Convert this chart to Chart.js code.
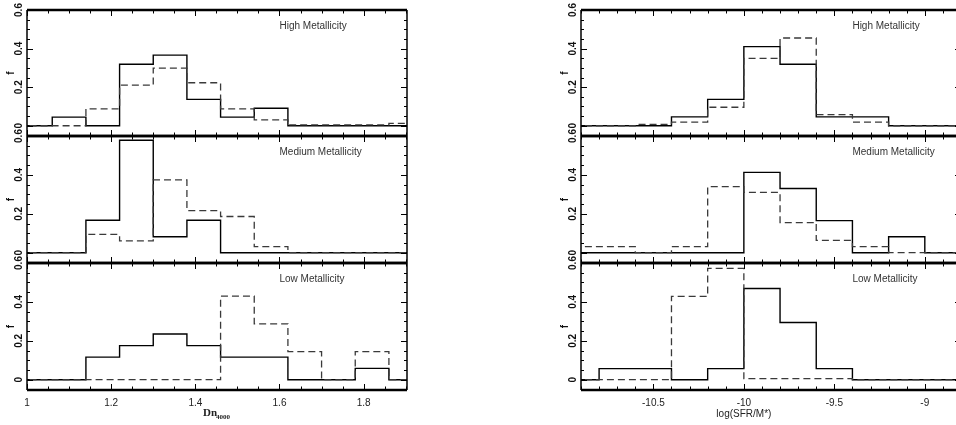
<!DOCTYPE html>
<html>
<head>
<meta charset="utf-8">
<script src="https://cdn.jsdelivr.net/npm/chart.js@4/dist/chart.umd.min.js"></script>
<style>
  html, body { margin: 0; padding: 0; background: #fff; width: 956px; height: 425px; overflow: hidden; position: relative; }
  canvas { position: absolute; top: 0; }
</style>
</head>
<body>
<div id="wrap"></div>
<script>
// bin edges (left edge of each bin, plus the final right edge)
const dnEdges = [0.98, 1.06, 1.14, 1.22, 1.30, 1.38, 1.46, 1.54, 1.62, 1.70, 1.78, 1.86, 1.94];
const sfrEdges = [-11.0, -10.8, -10.6, -10.4, -10.2, -10.0, -9.8, -9.6, -9.4, -9.2, -9.0, -8.8];

// Dn4000 histograms
const dnHighSolid  = [0, 0.045, 0, 0.319, 0.366, 0.137, 0.045, 0.091, 0, 0, 0, 0];
const dnHighDashed = [0, 0, 0.088, 0.211, 0.299, 0.223, 0.088, 0.031, 0.005, 0.005, 0.005, 0.012];
const dnMedSolid   = [0, 0, 0.167, 0.578, 0.082, 0.167, 0, 0, 0, 0, 0, 0];
const dnMedDashed  = [0, 0, 0.094, 0.061, 0.374, 0.216, 0.186, 0.031, 0, 0, 0, 0];
const dnLowSolid   = [0, 0, 0.116, 0.175, 0.235, 0.175, 0.116, 0.116, 0, 0, 0.058, 0];
const dnLowDashed  = [0, 0, 0, 0, 0, 0, 0.43, 0.287, 0.144, 0, 0.144, 0];

// log(SFR/M*) histograms
const sfrHighSolid  = [0, 0, 0, 0.046, 0.137, 0.41, 0.319, 0.046, 0.046, 0, 0];
const sfrHighDashed = [0, 0, 0.007, 0.019, 0.096, 0.349, 0.455, 0.058, 0.019, 0, 0];
const sfrMedSolid   = [0, 0, 0, 0, 0, 0.413, 0.33, 0.165, 0, 0.082, 0];
const sfrMedDashed  = [0.031, 0.031, 0, 0.031, 0.34, 0.31, 0.155, 0.063, 0.031, 0, 0];
const sfrLowSolid   = [0, 0.057, 0.057, 0, 0.057, 0.469, 0.294, 0.057, 0, 0, 0];
const sfrLowDashed  = [0, 0, 0, 0.428, 0.572, 0.005, 0.005, 0.005, 0, 0, 0];

// tick labels
const dnTicks = [1, 1.2, 1.4, 1.6, 1.8];
const sfrTicks = [-10.5, -10, -9.5, -9];
const yTicks = [0, 0.2, 0.4, 0.6];

// layout of the two columns
const columns = {
  dn:  { left: 0,   width: 460, plotLeft: 27, plotRight: 407, min: 1, max: 1.903, ticks: dnTicks,
         minor: 0.05, labelAt: 1.6, title: 'dn' },
  sfr: { left: 530, width: 440, plotLeft: 51, plotRight: 431, min: -10.9, max: -8.8, ticks: sfrTicks,
         minor: 0.1, labelAt: -9.4, title: 'sfr' }
};

const panels = [
  { col: 'dn',  label: 'High Metallicity',   solid: dnHighSolid,  dashed: dnHighDashed,  top: 10,  bottom: 136, last: false },
  { col: 'dn',  label: 'Medium Metallicity', solid: dnMedSolid,   dashed: dnMedDashed,   top: 136, bottom: 263, last: false },
  { col: 'dn',  label: 'Low Metallicity',    solid: dnLowSolid,   dashed: dnLowDashed,   top: 263, bottom: 390, last: true },
  { col: 'sfr', label: 'High Metallicity',   solid: sfrHighSolid, dashed: sfrHighDashed, top: 10,  bottom: 136, last: false },
  { col: 'sfr', label: 'Medium Metallicity', solid: sfrMedSolid,  dashed: sfrMedDashed,  top: 136, bottom: 263, last: false },
  { col: 'sfr', label: 'Low Metallicity',    solid: sfrLowSolid,  dashed: sfrLowDashed,  top: 263, bottom: 390, last: true }
];

const H = 425;
const Y_MIN = -0.053, Y_MAX = 0.6;

function steps(edges, vals) {
  return edges.map((e, i) => ({ x: e, y: vals[Math.min(i, vals.length - 1)] }));
}

function seg(ctx, x1, y1, x2, y2) {
  ctx.beginPath();
  ctx.moveTo(x1, y1);
  ctx.lineTo(x2, y2);
  ctx.stroke();
}

// frame, inside ticks, labels
const framePlugin = {
  id: 'frame',
  afterDatasetsDraw(chart, args, opts) {
    const { ctx, chartArea: a, scales: { x, y } } = chart;
    const col = opts.col;
    ctx.save();
    ctx.strokeStyle = '#000';
    ctx.lineWidth = 1.5;
    seg(ctx, a.left, a.top, a.left, a.bottom);
    seg(ctx, a.right, a.top, a.right, a.bottom);
    ctx.lineWidth = 2.5;
    seg(ctx, a.left, a.top, a.right, a.top);
    seg(ctx, a.left, a.bottom, a.right, a.bottom);

    // x ticks, top and bottom
    ctx.lineWidth = 1;
    const nx = Math.round((col.max - col.min) / col.minor);
    for (let i = 0; i <= nx; i++) {
      const v = col.min + i * col.minor;
      const px = Math.round(x.getPixelForValue(v)) + 0.5;
      const major = col.ticks.some(t => Math.abs(t - v) < 1e-6);
      const len = major ? 6 : 3.5;
      seg(ctx, px, a.top, px, a.top + len);
      seg(ctx, px, a.bottom, px, a.bottom - len);
    }
    // y ticks, left and right
    for (let i = -1; i <= 12; i++) {
      const v = i * 0.05;
      const py = Math.round(y.getPixelForValue(v)) + 0.5;
      const major = i % 4 === 0;
      const len = major ? 6 : 3;
      seg(ctx, a.left, py, a.left + len, py);
      seg(ctx, a.right, py, a.right - len, py);
    }

    // y tick labels, rotated
    ctx.fillStyle = '#111';
    ctx.font = 'bold 10px "Liberation Sans", Arial, sans-serif';
    ctx.textAlign = 'center';
    ctx.textBaseline = 'middle';
    yTicks.forEach(t => {
      ctx.save();
      ctx.translate(a.left - 8, y.getPixelForValue(t));
      ctx.rotate(-Math.PI / 2);
      ctx.fillText(String(t), 0, 0);
      ctx.restore();
    });
    ctx.save();
    ctx.translate(a.left - 16, (a.top + a.bottom) / 2);
    ctx.rotate(-Math.PI / 2);
    ctx.fillText('f', 0, 0);
    ctx.restore();

    // panel label
    ctx.fillStyle = '#333';
    ctx.font = '10px "Liberation Sans", Arial, sans-serif';
    ctx.textAlign = 'left';
    ctx.fillText(opts.label, x.getPixelForValue(col.labelAt), a.top + 16);

    if (opts.last) {
      ctx.fillStyle = '#222';
      ctx.textAlign = 'center';
      col.ticks.forEach(t => ctx.fillText(String(t), x.getPixelForValue(t), 403));
      if (col.title === 'dn') {
        ctx.font = 'bold 11px "Liberation Serif", "Times New Roman", serif';
        ctx.textAlign = 'left';
        ctx.fillText('Dn', 203, 413);
        ctx.font = 'bold 7px "Liberation Serif", "Times New Roman", serif';
        ctx.fillText('4000', 216, 417);
      } else {
        ctx.fillText('log(SFR/M*)', x.getPixelForValue(-10), 414);
      }
    }
    ctx.restore();
  }
};

const wrap = document.getElementById('wrap');
panels.forEach(p => {
  const col = columns[p.col];
  const edges = p.col === 'dn' ? dnEdges : sfrEdges;
  const cv = document.createElement('canvas');
  cv.width = col.width;
  cv.height = H;
  cv.style.left = col.left + 'px';
  cv.style.width = col.width + 'px';
  cv.style.height = H + 'px';
  wrap.appendChild(cv);

  new Chart(cv.getContext('2d'), {
    type: 'line',
    data: {
      datasets: [
        {
          data: steps(edges, p.dashed),
          stepped: 'before',
          borderColor: '#3a3a3a',
          borderWidth: 1.3,
          borderDash: [7, 4],
          pointRadius: 0,
          fill: false
        },
        {
          data: steps(edges, p.solid),
          stepped: 'before',
          borderColor: '#000',
          borderWidth: 1.4,
          pointRadius: 0,
          fill: false
        }
      ]
    },
    options: {
      responsive: false,
      devicePixelRatio: 1,
      animation: false,
      layout: {
        padding: { left: col.plotLeft, right: col.width - col.plotRight, top: p.top, bottom: H - p.bottom }
      },
      scales: {
        x: { type: 'linear', min: col.min, max: col.max, display: false },
        y: { type: 'linear', min: Y_MIN, max: Y_MAX, display: false }
      },
      plugins: {
        legend: { display: false },
        tooltip: { enabled: false },
        frame: { col: col, label: p.label, last: p.last }
      }
    },
    plugins: [framePlugin]
  });
});
</script>
</body>
</html>
